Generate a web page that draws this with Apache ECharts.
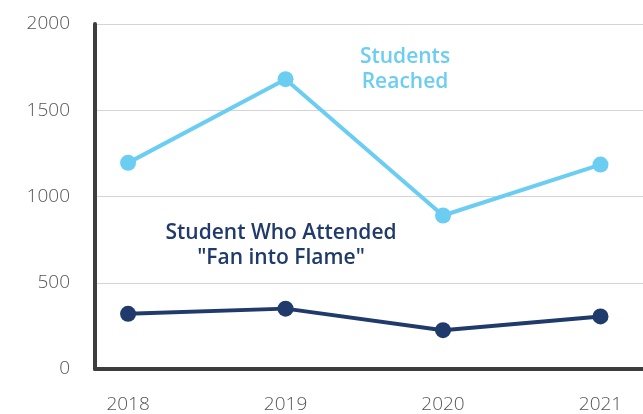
<!DOCTYPE html>
<html>
<head>
<meta charset="utf-8">
<script src="https://cdn.jsdelivr.net/npm/echarts@6/dist/echarts.min.js"></script>
<style>
  html, body { margin: 0; padding: 0; background: #fff; }
  #main { width: 643px; height: 414px; }
</style>
</head>
<body>
<div id="main"></div>
<script>
// 数据
var years = [2018, 2019, 2020, 2021];
var reached = [1195, 1680, 890, 1185];
var attended = [320, 350, 225, 305];
var yTicks = [0, 500, 1000, 1500, 2000];

var lightBlue = '#6ccdf3';
var navy = '#1f3a6b';

var myChart = echarts.init(document.getElementById('main'));

var option = {
  animation: false,
  grid: {
    left: 95,
    right: 0,
    top: 24,
    bottom: 45
  },
  xAxis: {
    type: 'value',
    min: 2017.79,
    max: 2021.27,
    axisLine: { show: true, onZero: false, lineStyle: { color: '#3d3d3d', width: 4 } },
    axisTick: { show: false },
    splitLine: { show: false },
    axisLabel: {
      customValues: years,
      margin: 26,
      color: '#555',
      fontSize: 19,
      fontWeight: 300,
      fontFamily: 'Open Sans',
      formatter: function (v) { return String(v); }
    }
  },
  yAxis: {
    type: 'value',
    min: 0,
    max: 2000,
    interval: 500,
    axisLine: { show: true, lineStyle: { color: '#3d3d3d', width: 4 } },
    axisTick: { show: false },
    splitLine: { lineStyle: { color: '#d4d4d4', width: 1 } },
    axisLabel: {
      customValues: yTicks,
      margin: 25,
      padding: [0, 0, 4, 0],
      color: '#555',
      fontSize: 19,
      fontWeight: 300,
      fontFamily: 'Open Sans',
      formatter: function (v) { return String(v); }
    }
  },
  series: [
    {
      name: 'Students Reached',
      type: 'line',
      data: years.map(function (y, i) { return [y, reached[i]]; }),
      symbol: 'circle',
      symbolSize: 16,
      lineStyle: { color: lightBlue, width: 4 },
      itemStyle: { color: lightBlue }
    },
    {
      name: 'Student Who Attended "Fan into Flame"',
      type: 'line',
      data: years.map(function (y, i) { return [y, attended[i]]; }),
      symbol: 'circle',
      symbolSize: 16,
      lineStyle: { color: navy, width: 4 },
      itemStyle: { color: navy }
    }
  ],
  graphic: [
    {
      type: 'text',
      x: 405,
      y: 45,
      style: {
        text: 'Students\nReached',
        fill: lightBlue,
        font: '600 21px "Open Sans"',
        align: 'center',
        lineHeight: 25
      }
    },
    {
      type: 'text',
      x: 281,
      y: 221,
      style: {
        text: 'Student Who Attended\n"Fan into Flame"',
        fill: navy,
        font: '600 21px "Open Sans"',
        align: 'center',
        lineHeight: 25
      }
    }
  ]
};

myChart.setOption(option);
</script>
</body>
</html>
